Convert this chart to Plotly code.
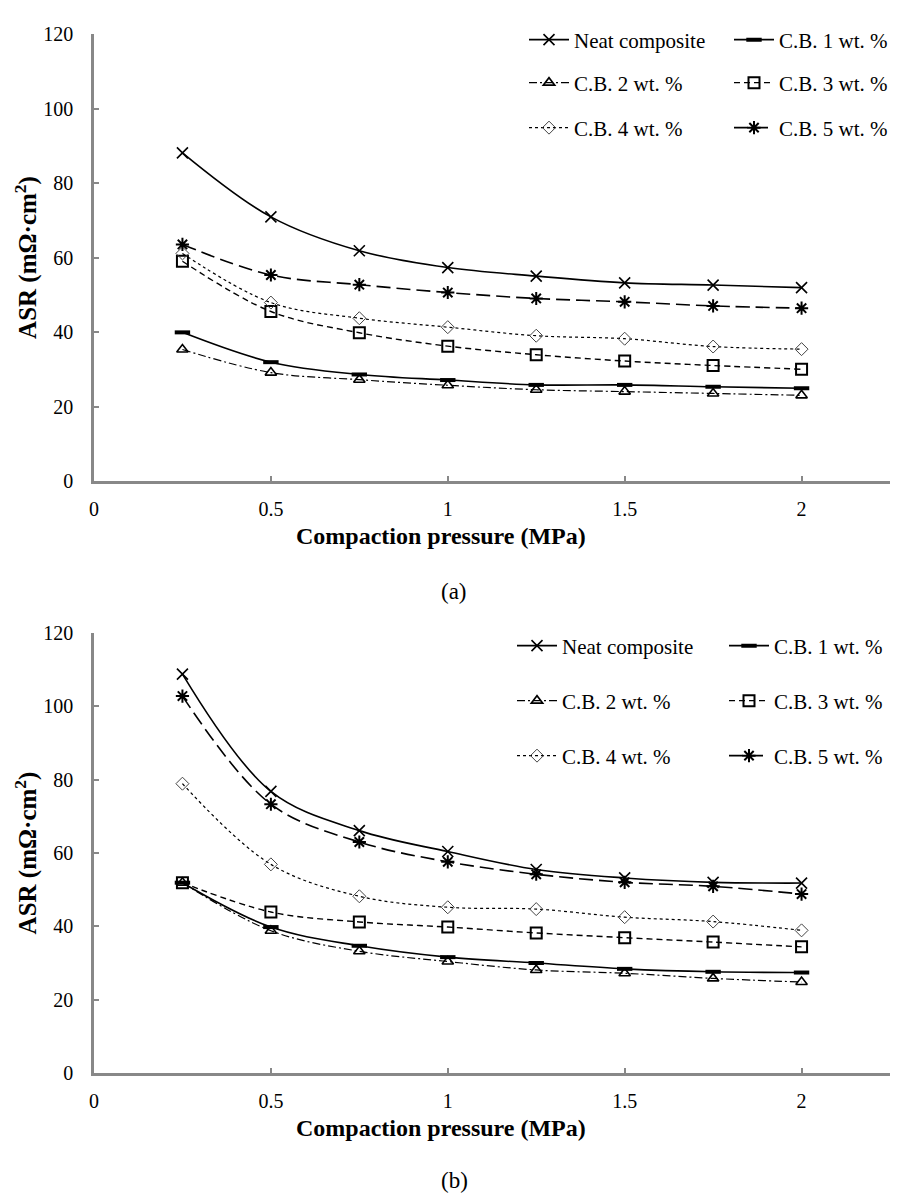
import plotly.graph_objects as go

# The page has an 8px body margin, so the figure is sized to fit the window
OFF = 8
W, H = 923 - 2 * OFF, 1195 - OFF

pressure = [0.25, 0.5, 0.75, 1.0, 1.25, 1.5, 1.75, 2.0]
series_names = ["Neat composite", "C.B. 1 wt. %", "C.B. 2 wt. %", "C.B. 3 wt. %", "C.B. 4 wt. %", "C.B. 5 wt. %"]

# Panel (a)
a_neat = [88.1, 70.9, 61.8, 57.3, 55.0, 53.2, 52.6, 51.9]
a_cb1 = [39.9, 31.9, 28.6, 27.1, 25.8, 25.8, 25.3, 24.9]
a_cb2 = [35.3, 29.1, 27.2, 25.7, 24.5, 24.0, 23.5, 23.0]
a_cb3 = [59.0, 45.5, 39.8, 36.2, 33.9, 32.2, 31.0, 30.0]
a_cb4 = [61.1, 47.9, 43.7, 41.3, 39.0, 38.2, 36.1, 35.4]
a_cb5 = [63.5, 55.3, 52.7, 50.6, 49.0, 48.1, 47.0, 46.4]

# Panel (b)
b_neat = [108.8, 76.8, 66.1, 60.4, 55.5, 53.2, 52.0, 51.8]
b_cb1 = [51.9, 39.8, 34.7, 31.6, 30.0, 28.4, 27.6, 27.4]
b_cb2 = [51.9, 38.8, 33.2, 30.4, 28.1, 27.2, 25.8, 24.8]
b_cb3 = [51.9, 43.9, 41.2, 39.8, 38.2, 36.9, 35.7, 34.4]
b_cb4 = [78.9, 56.9, 48.2, 45.2, 44.7, 42.5, 41.3, 38.9]
b_cb5 = [102.8, 73.3, 63.0, 57.6, 54.2, 52.0, 50.9, 48.8]

x_ticks = [0, 0.5, 1, 1.5, 2]
x_ticklabels = ["0", "0.5", "1", "1.5", "2"]
y_ticks = [0, 20, 40, 60, 80, 100, 120]

FONT = "Liberation Serif, Times New Roman, Times, serif"

styles = [
    dict(line=dict(color="black", width=1.6, dash="solid"),
         marker=dict(symbol="x-thin-open", size=11, color="black", line=dict(color="black", width=1.6))),
    dict(line=dict(color="black", width=1.6, dash="solid"),
         marker=dict(symbol="line-ew-open", size=11, color="black", line=dict(color="black", width=4))),
    dict(line=dict(color="black", width=1.2, dash="8px,3px,2px,3px"),
         marker=dict(symbol="triangle-up-open", size=10, color="black", line=dict(color="black", width=1.6))),
    dict(line=dict(color="black", width=1.4, dash="6px,4px"),
         marker=dict(symbol="square-open", size=11, color="black", line=dict(color="black", width=2))),
    dict(line=dict(color="black", width=1.2, dash="dot"),
         marker=dict(symbol="diamond-open", size=10, color="#444", line=dict(color="#444", width=1))),
    dict(line=dict(color="black", width=1.6, dash="14px,6px"),
         marker=dict(symbol="asterisk-open", size=11, color="black", line=dict(color="black", width=2))),
]

fig = go.Figure()

panel_a = [a_neat, a_cb1, a_cb2, a_cb3, a_cb4, a_cb5]
panel_b = [b_neat, b_cb1, b_cb2, b_cb3, b_cb4, b_cb5]
legends_a = ["legend", "legend", "legend2", "legend2", "legend3", "legend3"]
legends_b = ["legend4", "legend4", "legend5", "legend5", "legend6", "legend6"]

for i, name in enumerate(series_names):
    fig.add_trace(go.Scatter(x=pressure, y=panel_a[i], name=name, mode="lines+markers",
                             line_shape="spline", xaxis="x", yaxis="y",
                             legend=legends_a[i], **styles[i]))
for i, name in enumerate(series_names):
    fig.add_trace(go.Scatter(x=pressure, y=panel_b[i], name=name, mode="lines+markers",
                             line_shape="spline", xaxis="x2", yaxis="y2",
                             legend=legends_b[i], **styles[i]))

def px_x(p):
    return (p - OFF) / W

def px_y(p):
    return 1 - (p - OFF) / H

axis_common = dict(showline=True, linecolor="#888888", linewidth=2.5, showgrid=False,
                   zeroline=False, ticks="inside", ticklen=5, tickwidth=1.5, tickcolor="#888888",
                   tickfont=dict(family=FONT, size=20, color="black"), mirror=False,
                   automargin=False)

ytitle = dict(text="<b>ASR (mΩ·cm<sup>2</sup>)</b>", font=dict(family=FONT, size=25), standoff=0)

xdom = [px_x(94), px_x(890)]
fig.update_layout(
    width=W, height=H,
    margin=dict(l=0, r=0, t=0, b=0, autoexpand=False),
    paper_bgcolor="white", plot_bgcolor="white",
    font=dict(family=FONT, color="black"),
    xaxis=dict(domain=xdom, range=[0, 2.25], tickvals=x_ticks, ticktext=x_ticklabels,
               anchor="y", ticklabelstandoff=8, **axis_common),
    yaxis=dict(domain=[px_y(481), px_y(34)], range=[0, 120], tickvals=y_ticks,
               anchor="x", ticklabelstandoff=14, title=ytitle, **axis_common),
    xaxis2=dict(domain=xdom, range=[0, 2.25], tickvals=x_ticks, ticktext=x_ticklabels,
                anchor="y2", ticklabelstandoff=8, **axis_common),
    yaxis2=dict(domain=[px_y(1073), px_y(633)], range=[0, 120], tickvals=y_ticks,
                anchor="x2", ticklabelstandoff=14, title=ytitle, **axis_common),
)

leg_common = dict(orientation="h", xanchor="left", yanchor="middle",
                  font=dict(family=FONT, size=21, color="black"), bgcolor="rgba(0,0,0,0)",
                  itemwidth=40)
fig.update_layout(
    legend=dict(x=px_x(524), y=px_y(40), entrywidth=150, **leg_common),
    legend2=dict(x=px_x(524), y=px_y(83), entrywidth=150, **leg_common),
    legend3=dict(x=px_x(524), y=px_y(128), entrywidth=150, **leg_common),
    legend4=dict(x=px_x(512), y=px_y(646), entrywidth=157, **leg_common),
    legend5=dict(x=px_x(512), y=px_y(701), entrywidth=157, **leg_common),
    legend6=dict(x=px_x(512), y=px_y(756), entrywidth=157, **leg_common),
)

anns = [
    dict(text="<b>Compaction pressure (MPa)</b>", x=px_x(441), y=px_y(536), size=24),
    dict(text="<b>Compaction pressure (MPa)</b>", x=px_x(441), y=px_y(1128), size=24),
    dict(text="(a)", x=px_x(454), y=px_y(592), size=23),
    dict(text="(b)", x=px_x(454), y=px_y(1180), size=23),
]
for a in anns:
    fig.add_annotation(xref="paper", yref="paper", x=a["x"], y=a["y"], text=a["text"],
                       showarrow=False, xanchor="center", yanchor="middle",
                       font=dict(family=FONT, size=a["size"], color="black"))

fig.write_html("out.html")
